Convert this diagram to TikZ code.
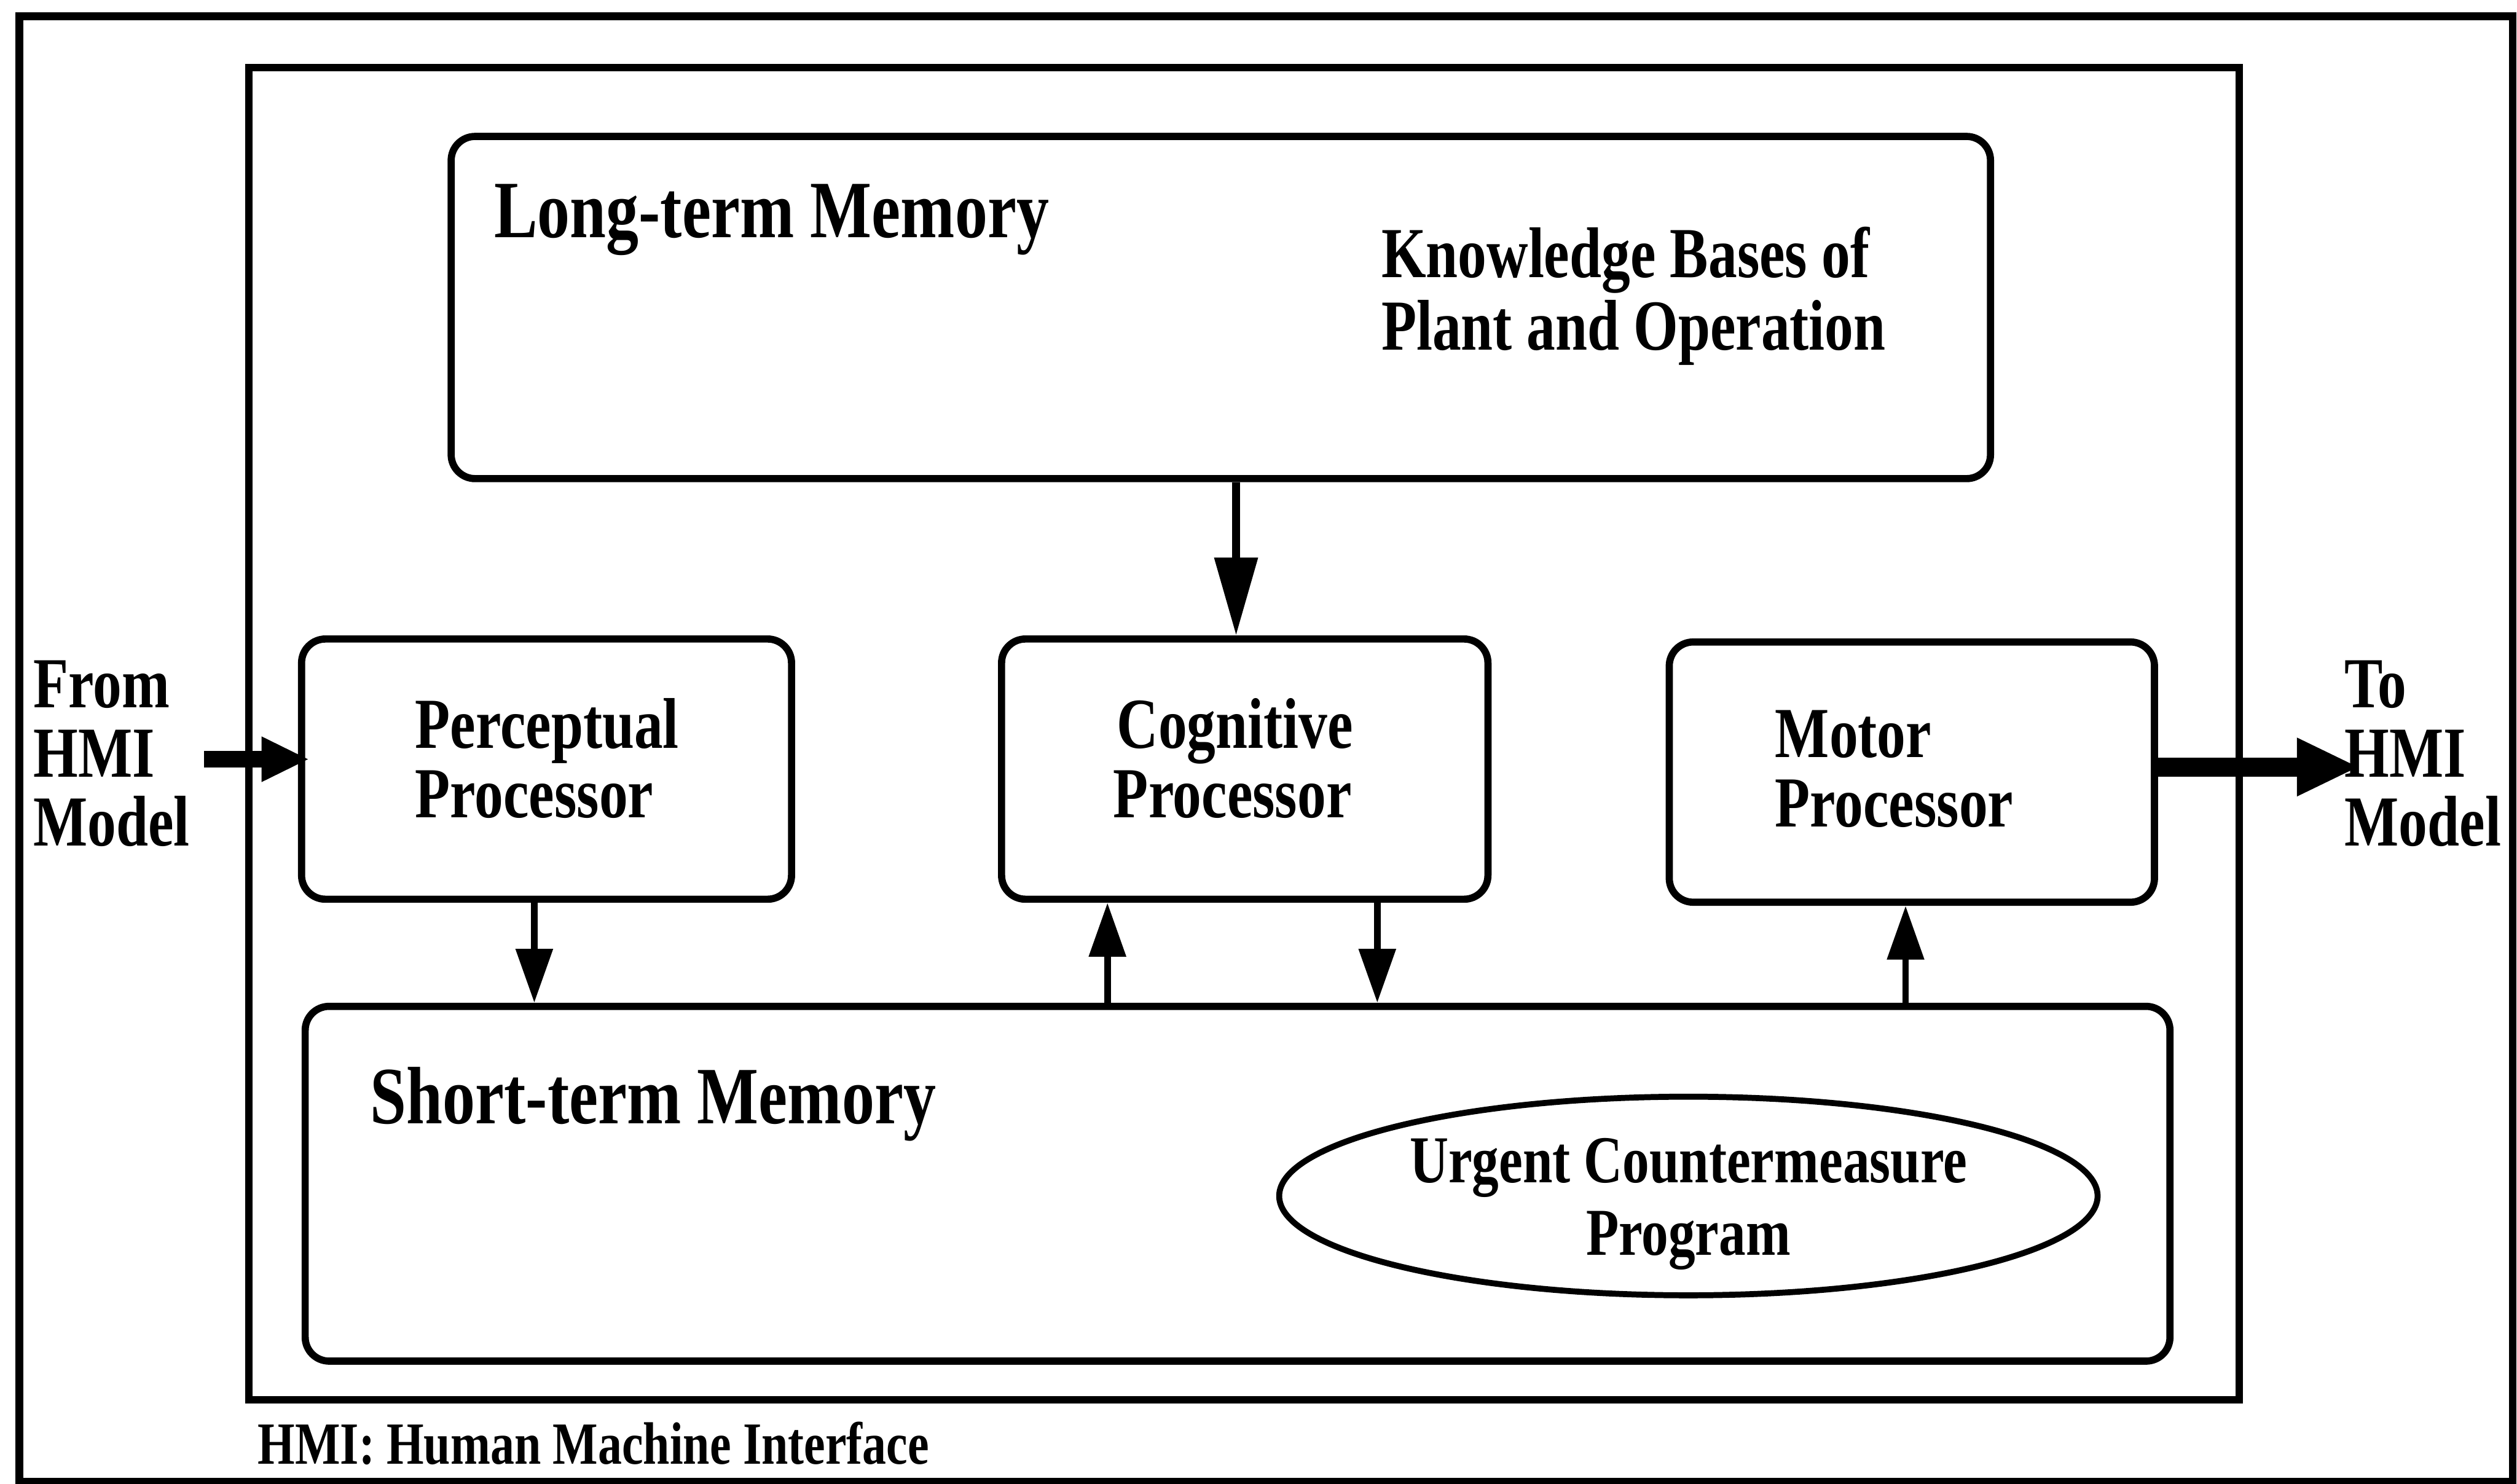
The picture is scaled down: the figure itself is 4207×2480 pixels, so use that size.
\documentclass[tikz,border=0pt]{standalone}
\usepackage{fontspec}
\setmainfont{Liberation Serif}[FakeStretch=0.8]
\usetikzlibrary{arrows.meta,shapes.geometric}
\begin{document}
\begin{tikzpicture}[x=0.1pt,y=-0.1pt,
  frame/.style={draw, line width=1.3pt, inner sep=0pt, sharp corners},
  pbox/.style={draw, line width=1.2pt, rounded corners=4pt, inner sep=0pt},
  ell/.style={draw, ellipse, line width=1.0pt, inner sep=0pt},
  lbl/.style={anchor=base west, inner sep=0pt, font=\bfseries\fontsize{12pt}{12pt}\selectfont},
  big/.style={anchor=base west, inner sep=0pt, font=\bfseries\fontsize{13.6pt}{13.6pt}\selectfont},
  ctr/.style={anchor=base, inner sep=0pt, font=\bfseries\fontsize{11.2pt}{11.2pt}\selectfont},
  note/.style={anchor=base west, inner sep=0pt, font=\bfseries\fontsize{10pt}{10pt}\selectfont},
  bigarrow/.style={line width=1.3pt, -{Triangle[length=13pt,width=7pt]}},
  smallarrow/.style={line width=1.1pt, -{Triangle[length=9pt,width=6pt]}},
  inarrow/.style={line width=2.7pt, -{Triangle[length=8pt,width=7pt]}},
  outarrow/.style={line width=3.2pt, -{Triangle[length=10.5pt,width=9pt]}}
]
\useasboundingbox (0,0) rectangle (4207,2480);
% frames
\node[frame, minimum width=416.8pt, minimum height=245pt] (outer) at (2116,1252) {};
\node[frame, line width=1.2pt, minimum width=332.7pt, minimum height=222.7pt] (inner) at (2079.5,1226.5) {};
% boxes
\node[pbox, minimum width=257.3pt, minimum height=57.2pt] (ltm) at (2040.5,514) {};
\node[pbox, minimum width=81.9pt, minimum height=43.5pt] (perc) at (913.5,1285.5) {};
\node[pbox, minimum width=81.3pt, minimum height=43.5pt] (cog) at (2080.5,1285.5) {};
\node[pbox, minimum width=81.1pt, minimum height=43.5pt] (motor) at (3195.5,1290.5) {};
\node[pbox, minimum width=311.7pt, minimum height=59.3pt] (stm) at (2068.5,1978.5) {};
\node[ell, minimum width=136.8pt, minimum height=33.2pt] (ucp) at (2822,1999) {};
% texts
\node[big] (tltm) at (824,397) {Long-term Memory};
\node[lbl] (tkb1) at (2307,464) {Knowledge Bases of};
\node[lbl] (tkb2) at (2307,585) {Plant and Operation};
\node[lbl] (tp1) at (692,1250) {Perceptual};
\node[lbl] (tp2) at (692,1366) {Processor};
\node[lbl] (tc1) at (1865,1250) {Cognitive};
\node[lbl] (tc2) at (1859,1366) {Processor};
\node[lbl] (tm1) at (2965,1266) {Motor};
\node[lbl] (tm2) at (2965,1382) {Processor};
\node[big] (tstm) at (617,1878) {Short-term Memory};
\node[ctr] (tu1) at (2822,1977) {Urgent Countermeasure};
\node[ctr] (tu2) at (2822,2098) {Program};
\node[lbl] (tf1) at (54,1183) {From};
\node[lbl] (tf2) at (54,1299) {HMI};
\node[lbl] (tf3) at (54,1414) {Model};
\node[lbl] (tt1) at (3917,1183) {To};
\node[lbl] (tt2) at (3917,1299) {HMI};
\node[lbl] (tt3) at (3917,1414) {Model};
\node[note] (tnote) at (429,2447) {HMI: Human Machine Interface};
% connector coordinates
\coordinate (xa) at (2066,0);
\coordinate (xb) at (893,0);
\coordinate (xc) at (1851,0);
\coordinate (xd) at (2302,0);
\coordinate (xe) at (3185,0);
\coordinate (inS) at (341,1269);
\coordinate (outE) at (3944,1282);
% connectors
\draw[bigarrow] (xa |- ltm.south) -- (xa |- cog.north);
\draw[smallarrow] (xb |- perc.south) -- (xb |- stm.north);
\draw[smallarrow] (xc |- stm.north) -- (xc |- cog.south);
\draw[smallarrow] (xd |- cog.south) -- (xd |- stm.north);
\draw[smallarrow] (xe |- stm.north) -- (xe |- motor.south);
\draw[inarrow, shorten >=-1.9pt] (inS) -- (inS -| perc.west);
\draw[outarrow] (outE -| motor.east) -- (outE);
\end{tikzpicture}
\end{document}
